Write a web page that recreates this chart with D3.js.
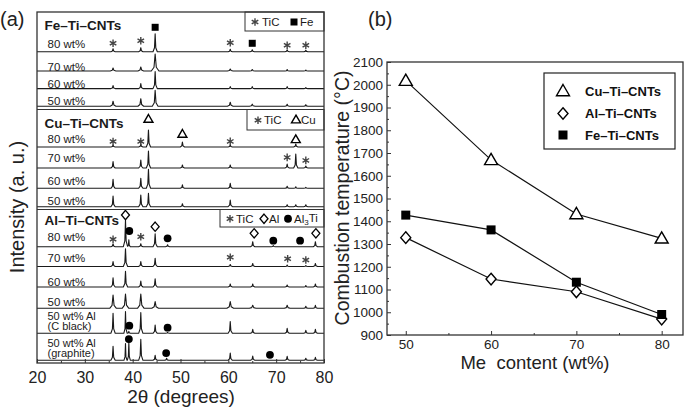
<!DOCTYPE html>
<html><head><meta charset="utf-8">
<script src="https://cdn.jsdelivr.net/npm/d3@7"></script>
<style>body{margin:0;background:#fff}svg{font-family:"Liberation Sans",Arial,sans-serif}</style>
</head><body><svg id="c" width="685" height="411"></svg>
<script>
// ================= DATA =================
// (a) XRD patterns: peaks as [2theta, intensity (a.u.), optional half-width]
const thetaTicks = [20, 30, 40, 50, 60, 70, 80];
const thetaMinor = [25, 35, 45, 55, 65, 75];

const feTitle = "Fe\u2013Ti\u2013CNTs";
const feRows = ["80 wt%", "70 wt%", "60 wt%", "50 wt%"];
const fePeaks = [
  [[35.9,3],[41.7,4],[44.7,18],[60.4,2.5],[65.0,2],[72.3,2],[76.2,1.5]],
  [[35.9,3,0.6],[41.7,4,0.6],[44.7,17,0.8],[60.4,2,0.6],[65.0,1.5,0.6],[72.3,1.5],[76.2,1]],
  [[35.9,3],[41.7,5],[44.7,17],[60.4,2],[65.0,2],[72.3,2],[76.2,1]],
  [[35.9,5,0.6],[41.7,7.5,0.6],[44.7,16,0.6],[60.4,4,0.6],[65.0,2,0.6],[72.3,2],[76.2,1.5]]
];
const feMarks = [[[35.9,"TiC",8.4],[41.7,"TiC",11],[44.7,"Fe",24.4],[60.4,"TiC",9],[65.0,"Fe",8.4],[72.3,"TiC",6.4],[76.2,"TiC",6.4]], [], [], []];
const feLegend = ["TiC", "Fe"];

const cuTitle = "Cu\u2013Ti\u2013CNTs";
const cuRows = ["80 wt%", "70 wt%", "60 wt%", "50 wt%"];
const cuPeaks = [
  [[35.9,2],[41.7,3],[43.3,17],[50.4,5],[60.4,2],[74.1,3]],
  [[35.9,6.5],[41.7,8],[43.3,17],[50.4,3],[60.4,3],[72.3,4],[74.1,14],[76.2,2]],
  [[35.9,9],[41.7,10],[43.3,19],[50.4,3.5],[60.4,5],[72.3,2],[74.1,1.5],[76.2,1]],
  [[35.9,10.7],[41.7,11.7],[43.3,13.3],[50.4,3],[60.4,6.7],[72.3,2],[74.1,2],[76.2,2]]
];
const cuMarks = [[[35.9,"TiC",5.5],[41.7,"TiC",5.5],[43.3,"Cu",27.3],[50.4,"Cu",12.3],[60.4,"TiC",5.6],[74.1,"Cu",7]],
  [[72.3,"TiC",10.6],[76.2,"TiC",7.6]], [], []];
const cuLegend = ["TiC", "Cu"];

const alTitle = "Al\u2013Ti\u2013CNTs";
const alRows = [["80 wt%"], ["70 wt%"], ["60 wt%"], ["50 wt%"], ["50 wt% Al", "(C black)"], ["50 wt% Al", "(graphite)"]];
const alPeaks = [
  [[35.9,3],[38.5,26.7],[39.2,7,0.3],[41.7,3],[44.7,13],[47.3,2],[65.1,5],[69.4,1],[78.2,5]],
  [[35.9,5],[38.5,17.7],[41.7,5],[44.7,8.3],[60.4,2],[65.1,3],[72.3,1.5],[76.2,1],[78.2,3]],
  [[35.9,9.3],[38.5,15.7],[41.7,6],[44.7,8.3],[60.4,3],[65.1,3],[72.3,2],[76.2,1.5],[78.2,3]],
  [[35.9,13.3,0.7],[38.5,14.3,0.7],[41.7,14.3,0.7],[44.7,6.7,0.7],[60.4,6.7,0.7],[65.1,3,0.7],[72.3,3,0.6],[76.2,2],[78.2,3]],
  [[35.9,20],[38.5,21.7,0.35],[39.2,2,0.3],[41.7,20.7],[44.7,8.3],[47.3,1],[60.4,11.7],[65.1,4],[72.3,5],[76.2,3],[78.2,4]],
  [[35.9,14],[38.5,16.7,0.32],[39.2,18,0.32],[41.7,21],[44.7,5],[47.1,2],[60.4,7.3],[65.1,4.3],[72.3,4],[76.2,2],[78.2,3]]
];
const alMarks = [
  [[35.9,"TiC",7.4],[38.5,"Al",31.7],[39.3,"Al3Ti",15.7],[41.7,"TiC",10],[44.7,"Al",20],[47.3,"Al3Ti",8.4],[65.4,"Al",13.4],[69.4,"Al3Ti",6],[75.0,"Al3Ti",6],[78.3,"Al",13.4]],
  [[60.4,"TiC",9.2],[72.4,"TiC",7.8],[76.2,"TiC",6.5]],
  [], [],
  [[39.3,"Al3Ti",7.6],[47.3,"Al3Ti",5.6]],
  [[39.2,"Al3Ti",21.2],[47.0,"Al3Ti",7.2],[68.7,"Al3Ti",5.5]]
];
const alLegend = ["TiC", "Al", "Al3Ti"];

// (b) combustion temperature
const meContent = [50, 60, 70, 80];
const cuTemp = [2018, 1670, 1432, 1325];
const alTemp = [1328, 1146, 1090, 970];
const feTemp = [1427, 1362, 1132, 990];
const tempTicks = [900,1000,1100,1200,1300,1400,1500,1600,1700,1800,1900,2000,2100];
const tempMinor = [950,1050,1150,1250,1350,1450,1550,1650,1750,1850,1950,2050];
const seriesNames = ["Cu\u2013Ti\u2013CNTs", "Al\u2013Ti\u2013CNTs", "Fe\u2013Ti\u2013CNTs"];

// ================= DRAW =================
const svg = d3.select("#c");
const ink = "#1a1a1a";
const FONT = "Liberation Sans, Arial, sans-serif";

function symbolPath(type, s) {
  const p = d3.path();
  if (type === "tri") { const h = s*Math.sqrt(3)/2; p.moveTo(0,-h*2/3); p.lineTo(s/2,h/3); p.lineTo(-s/2,h/3); p.closePath(); }
  else if (type === "dia") { p.moveTo(0,-s*0.58); p.lineTo(s*0.5,0); p.lineTo(0,s*0.58); p.lineTo(-s*0.5,0); p.closePath(); }
  else if (type === "sq") { p.rect(-s/2,-s/2,s,s); }
  return p.toString();
}
function drawMark(g, type, x, y) {
  if (type === "TiC") {
    g.append("path").attr("transform",`translate(${x},${y})`)
      .attr("d", d3.symbol(d3.symbolAsterisk, 40)()).attr("fill","none").attr("stroke","#444").attr("stroke-width",1.4);
  } else if (type === "Fe") {
    g.append("path").attr("transform",`translate(${x},${y})`).attr("d", symbolPath("sq",7)).attr("fill","#000");
  } else if (type === "Cu") {
    g.append("path").attr("transform",`translate(${x},${y})`).attr("d", symbolPath("tri",9)).attr("fill","#fff").attr("stroke","#000").attr("stroke-width",1.4);
  } else if (type === "Al") {
    g.append("path").attr("transform",`translate(${x},${y})`).attr("d", symbolPath("dia",8)).attr("fill","#fff").attr("stroke","#000").attr("stroke-width",1.3);
  } else if (type === "Al3Ti") {
    g.append("circle").attr("cx",x).attr("cy",y).attr("r",3.9).attr("fill","#000");
  }
}

// ---------- panel (a) ----------
const L = {x0: 37, x1: 324, y0: 12, y1: 363};
const xL = d3.scaleLinear().domain([20, 80]).range([L.x0, L.x1]);
const iL = d3.scaleLinear().domain([0, 10]).range([0, 10]);
const gA = svg.append("g");

const kern = [[-1,0],[-0.3,0.22],[0,1],[0.3,0.22],[1,0]];
function kernAt(t) { t = Math.abs(t); if (t >= 1) return 0; if (t <= 0.3) return 1 - 0.78*t/0.3; return 0.22*(1-t)/0.7; }
function profile(peaks) {
  const W = 0.45;
  const xs = new Set([20, 80]);
  peaks.forEach(([p,h,w=W]) => kern.forEach(([k]) => xs.add(+(p + k*w).toFixed(4))));
  return [...xs].filter(x => x >= 20 && x <= 80).sort((a,b)=>a-b)
    .map(x => [x, d3.sum(peaks, ([p,h,w=W]) => h*kernAt((x-p)/w))]);
}

const sections = [
  {title: feTitle, titleY: 25.5, rows: feRows.map(r=>[r]), peaks: fePeaks, marks: feMarks, legend: feLegend,
   bases: [51.7, 71, 88.6, 106.2], labelYs: [[44],[66.5],[83.5],[100.5]],
   box: {x: 245, y: 12, y2: 31}, legX: [[255,262],[294,300]]},
  {title: cuTitle, titleY: 123, rows: cuRows.map(r=>[r]), peaks: cuPeaks, marks: cuMarks, legend: cuLegend,
   bases: [147, 168, 188.3, 206.7], labelYs: [[139],[157.5],[180.5],[201]],
   box: {x: 247, y: 109.5, y2: 130}, legX: [[258,264],[296,301]]},
  {title: alTitle, titleY: 220, rows: alRows, peaks: alPeaks, marks: alMarks, legend: alLegend,
   bases: [246.7, 266.5, 287, 308.3, 333.3, 360.3], labelYs: [[237],[257.5],[281.5],[301.5],[316,326.5],[342.8,353.3]],
   box: {x: 220, y: 209.5, y2: 227}, legX: [[230,236],[264,269],[288,294]]}
];

const line = d3.line().x(d => xL(d[0]));
sections.forEach(sec => {
  gA.append("rect").attr("x", sec.box.x).attr("y", sec.box.y).attr("width", L.x1 - sec.box.x).attr("height", sec.box.y2 - sec.box.y)
    .attr("fill","#fff").attr("stroke","#333").attr("stroke-width",1);
  const ly = (sec.box.y + sec.box.y2)/2 + 0.5;
  sec.legend.forEach((name, i) => {
    const [sx, tx] = sec.legX[i];
    drawMark(gA, name, sx, ly);
    const t = gA.append("text").attr("x", tx).attr("y", ly).attr("dy","0.35em").attr("font-size", 11.5).attr("fill", ink);
    if (name === "Al3Ti") { t.append("tspan").text("Al"); t.append("tspan").attr("font-size",8).attr("dy","0.3em").text("3"); t.append("tspan").attr("dy","-0.25em").text("Ti"); }
    else t.text(name);
  });
  gA.append("text").attr("x", 44.5).attr("y", sec.titleY).attr("dy","0.36em").attr("font-size",13.5).attr("font-weight","bold").attr("fill",ink).text(sec.title);
  sec.rows.forEach((lab, r) => {
    const fs = lab.length > 1 ? 11 : 11.5;
    const t = gA.append("text").attr("font-size", fs).attr("fill","#222");
    lab.forEach((s, k) => t.append("tspan").attr("x", 47.5).attr("y", sec.labelYs[r][k]).attr("dy","0.36em").text(s));
    const base = sec.bases[r];
    gA.append("path").attr("d", line.y(d => base - iL(d[1]))(profile(sec.peaks[r])))
      .attr("fill","none").attr("stroke", ink).attr("stroke-width",1.1).attr("stroke-linejoin","round");
    sec.marks[r].forEach(([th, type, lvl]) => drawMark(gA, type, xL(th), base - iL(lvl)));
  });
});
[109.5, 209.5].forEach(y => gA.append("line").attr("x1",L.x0).attr("x2",L.x1).attr("y1",y).attr("y2",y).attr("stroke","#333").attr("stroke-width",1.1));
gA.append("rect").attr("x",L.x0).attr("y",L.y0).attr("width",L.x1-L.x0).attr("height",L.y1-L.y0).attr("fill","none").attr("stroke","#333").attr("stroke-width",1.3);
const axA = gA.append("g").attr("transform",`translate(0,${L.y1})`)
  .call(d3.axisBottom(xL).tickValues(thetaTicks).tickSize(-4).tickPadding(9));
axA.select(".domain").remove();
axA.selectAll("text").attr("font-size",16).attr("fill","#222").attr("font-family",FONT);
axA.selectAll("line").attr("stroke","#333");
const axA2 = gA.append("g").attr("transform",`translate(0,${L.y1})`)
  .call(d3.axisBottom(xL).tickValues(thetaMinor).tickSize(-2).tickFormat(""));
axA2.select(".domain").remove(); axA2.selectAll("line").attr("stroke","#333");
gA.append("text").attr("x",181).attr("y",396).attr("dy","0.35em").attr("text-anchor","middle").attr("font-size",19).attr("fill","#222").text("2\u03b8 (degrees)");
gA.append("text").attr("transform","translate(17,207) rotate(-90)").attr("dy","0.35em").attr("text-anchor","middle").attr("font-size",20).attr("fill","#222").text("Intensity (a. u.)");
gA.append("text").attr("x",0).attr("y",19).attr("dy","0.35em").attr("font-size",20).attr("fill","#222").text("(a)");

// ---------- panel (b) ----------
const R = {x0: 387, x1: 683, y0: 62, y1: 335};
const xR = d3.scaleLinear().domain([47.8, 82.5]).range([R.x0, R.x1]);
const yR = d3.scaleLinear().domain([900, 2100]).range([R.y1, R.y0]);
const gB = svg.append("g");
gB.append("text").attr("x",368).attr("y",19).attr("dy","0.35em").attr("font-size",20).attr("fill","#222").text("(b)");

const axL = gB.append("g").attr("transform",`translate(${R.x0},0)`)
  .call(d3.axisLeft(yR).tickValues(tempTicks).tickFormat(d3.format("d")).tickSize(-4).tickPadding(4));
axL.select(".domain").remove();
axL.selectAll("text").attr("font-size",13.5).attr("fill","#222").attr("font-family",FONT);
const axL2 = gB.append("g").attr("transform",`translate(${R.x0},0)`).call(d3.axisLeft(yR).tickValues(tempMinor).tickSize(-2).tickFormat(""));
axL2.select(".domain").remove();
const axB = gB.append("g").attr("transform",`translate(0,${R.y1})`)
  .call(d3.axisBottom(xR).tickValues(meContent).tickFormat(d3.format("d")).tickSize(-4).tickPadding(4.5));
axB.select(".domain").remove();
axB.selectAll("text").attr("font-size",13.5).attr("fill","#222").attr("font-family",FONT);
const axB2 = gB.append("g").attr("transform",`translate(0,${R.y1})`).call(d3.axisBottom(xR).tickValues([55,65,75]).tickSize(-2).tickFormat(""));
axB2.select(".domain").remove();
gB.selectAll(".tick line").attr("stroke","#333");

const series = [
  {vals: cuTemp, type: "tri"},
  {vals: alTemp, type: "dia"},
  {vals: feTemp, type: "sq"}
];
const lineR = d3.line().x((d,i) => xR(meContent[i])).y(d => yR(d));
series.forEach(s => {
  gB.append("path").attr("d", lineR(s.vals)).attr("fill","none").attr("stroke","#111").attr("stroke-width",1.2);
});
function bigMark(type, x, y) {
  if (type === "tri") gB.append("path").attr("transform",`translate(${x},${y+1})`).attr("d", symbolPath("tri",13)).attr("fill","#fff").attr("stroke","#000").attr("stroke-width",1.4);
  else if (type === "dia") gB.append("path").attr("transform",`translate(${x},${y})`).attr("d", symbolPath("dia",10)).attr("fill","#fff").attr("stroke","#000").attr("stroke-width",1.4);
  else gB.append("path").attr("transform",`translate(${x},${y})`).attr("d", symbolPath("sq",9)).attr("fill","#000");
}
series.forEach(s => s.vals.forEach((v,i) => bigMark(s.type, xR(meContent[i]), yR(v))));

gB.append("rect").attr("x",R.x0).attr("y",R.y0).attr("width",R.x1-R.x0).attr("height",R.y1-R.y0).attr("fill","none").attr("stroke","#333").attr("stroke-width",1.3);

gB.append("rect").attr("x",544).attr("y",73).attr("width",131).attr("height",76).attr("fill","#fff").attr("stroke","#222").attr("stroke-width",1.2);
[91, 113.5, 135].forEach((ly, i) => {
  bigMark(series[i].type, 563, ly);
  gB.append("text").attr("x",585).attr("y",ly).attr("dy","0.36em").attr("font-size",13).attr("font-weight","bold").attr("fill","#111").text(seriesNames[i]);
});

gB.append("text").attr("x",535).attr("y",362.5).attr("dy","0.35em").attr("text-anchor","middle").attr("font-size",18.5).attr("fill","#222").text("Me\u00a0 content (wt%)");
gB.append("text").attr("transform","translate(342,198) rotate(-90)").attr("dy","0.35em").attr("text-anchor","middle").attr("font-size",19.5).attr("fill","#222").text("Combustion temperature (\u00b0C)");
</script></body></html>
